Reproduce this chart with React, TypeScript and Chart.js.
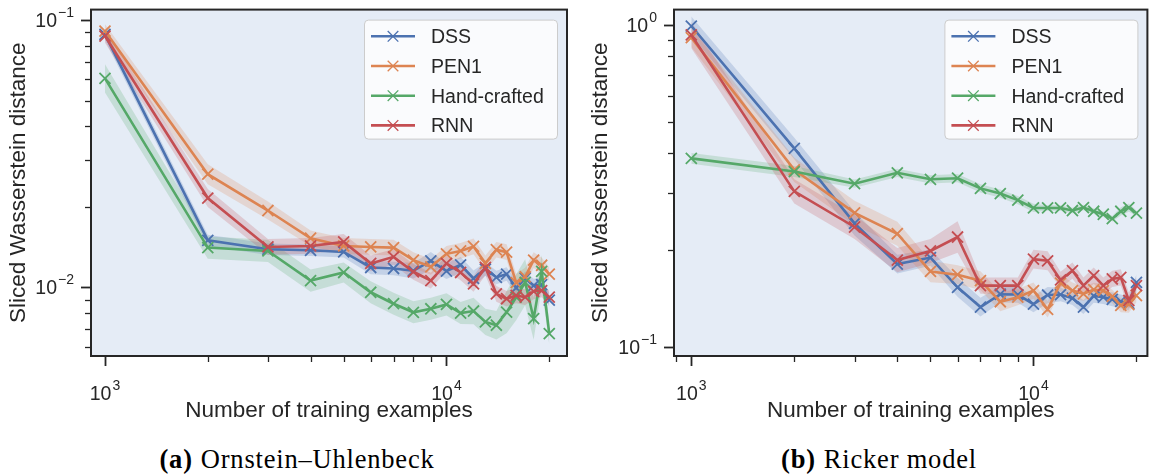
import { useEffect, useRef } from 'react';
import { Chart, registerables } from 'chart.js';

Chart.register(...registerables);

// Training-set sizes shared by both experiments
const trainingSizes = [
  1000, 2000, 3000, 4000, 5000, 6000, 7000, 8000, 9000, 10000,
  11000, 12000, 13000, 14000, 15000, 16000, 17000, 18000, 19000, 20000,
];

const seriesNames = ['DSS', 'PEN1', 'Hand-crafted', 'RNN'];
const seriesColors = ['#4c72b0', '#dd8452', '#55a868', '#c44e52'];

// (a) Ornstein–Uhlenbeck: sliced Wasserstein distance
const ouDSS = [0.0884, 0.01499, 0.01388, 0.01376, 0.01356, 0.01186, 0.01176, 0.01153, 0.01256, 0.0115, 0.01214, 0.01079, 0.0117, 0.01089, 0.01121, 0.00995, 0.01082, 0.01015, 0.01023, 0.00896];
const ouPEN1 = [0.091, 0.0265, 0.01938, 0.01526, 0.01428, 0.01416, 0.01408, 0.01264, 0.01193, 0.01334, 0.01368, 0.01422, 0.0123, 0.01382, 0.01354, 0.01041, 0.01095, 0.01264, 0.01209, 0.01121];
const ouHand = [0.0605, 0.01408, 0.01368, 0.01059, 0.01136, 0.00958, 0.00868, 0.00806, 0.00831, 0.00863, 0.00801, 0.00815, 0.00742, 0.00721, 0.00807, 0.00918, 0.01044, 0.00763, 0.01147, 0.00671];
const ouRNN = [0.0872, 0.02158, 0.01416, 0.01428, 0.01478, 0.01228, 0.013, 0.01143, 0.01059, 0.01228, 0.01136, 0.01029, 0.01186, 0.00945, 0.00906, 0.00932, 0.00918, 0.00966, 0.00972, 0.00918];

// relative spread of the shaded bands
const ouDSSSpread = [0.05, 0.05, 0.05, 0.05, 0.05, 0.06, 0.06, 0.07, 0.08, 0.07, 0.07, 0.07, 0.06, 0.06, 0.06, 0.06, 0.06, 0.06, 0.06, 0.06];
const ouPEN1Spread = [0.06, 0.09, 0.08, 0.07, 0.07, 0.07, 0.07, 0.07, 0.07, 0.07, 0.07, 0.07, 0.07, 0.07, 0.07, 0.08, 0.08, 0.07, 0.07, 0.06];
const ouHandSpread = [0.13, 0.1, 0.1, 0.1, 0.09, 0.1, 0.1, 0.1, 0.1, 0.1, 0.1, 0.12, 0.12, 0.13, 0.2, 0.22, 0.22, 0.2, 0.15, 0.1];
const ouRNNSpread = [0.06, 0.08, 0.07, 0.07, 0.07, 0.07, 0.07, 0.07, 0.07, 0.07, 0.07, 0.07, 0.07, 0.07, 0.07, 0.07, 0.07, 0.07, 0.06, 0.06];

// (b) Ricker model: sliced Wasserstein distance
const rkDSS = [0.993, 0.4133, 0.2416, 0.1805, 0.1892, 0.1529, 0.1327, 0.1455, 0.1452, 0.1355, 0.1447, 0.1452, 0.1414, 0.1327, 0.1437, 0.1425, 0.1402, 0.1382, 0.1362, 0.1584];
const rkPEN1 = [0.9138, 0.3545, 0.2605, 0.2244, 0.1713, 0.1674, 0.1604, 0.1379, 0.1425, 0.1494, 0.1305, 0.1575, 0.1494, 0.1459, 0.1504, 0.1494, 0.1432, 0.1343, 0.1352, 0.1442];
const rkHand = [0.3849, 0.3502, 0.3211, 0.3472, 0.3314, 0.334, 0.3105, 0.2991, 0.2855, 0.2699, 0.2699, 0.2699, 0.265, 0.2707, 0.2636, 0.258, 0.2499, 0.2636, 0.2707, 0.26];
const rkRNN = [0.9315, 0.3039, 0.2355, 0.1858, 0.1984, 0.2192, 0.1548, 0.1548, 0.1548, 0.1871, 0.1849, 0.1612, 0.1722, 0.1548, 0.1662, 0.1548, 0.1623, 0.1641, 0.1391, 0.1548];

const rkDSSSpread = [0.07, 0.08, 0.09, 0.07, 0.06, 0.07, 0.07, 0.06, 0.06, 0.06, 0.06, 0.05, 0.05, 0.05, 0.05, 0.05, 0.05, 0.05, 0.05, 0.06];
const rkPEN1Spread = [0.07, 0.09, 0.09, 0.09, 0.08, 0.07, 0.07, 0.07, 0.06, 0.06, 0.06, 0.06, 0.06, 0.05, 0.05, 0.05, 0.05, 0.05, 0.06, 0.05];
const rkHandSpread = [0.04, 0.04, 0.03, 0.03, 0.03, 0.03, 0.03, 0.03, 0.03, 0.03, 0.02, 0.02, 0.02, 0.02, 0.02, 0.02, 0.02, 0.03, 0.03, 0.02];
const rkRNNSpread = [0.1, 0.09, 0.09, 0.09, 0.09, 0.12, 0.06, 0.06, 0.06, 0.07, 0.07, 0.06, 0.06, 0.06, 0.06, 0.06, 0.06, 0.06, 0.06, 0.06];

// major tick labels (base 10 with exponent)
const xTickValues = [1000, 10000];
const xTickExponents = ['3', '4'];
const ouYTickValues = [0.1, 0.01];
const ouYTickExponents = ['\u22121', '\u22122'];
const rkYTickValues = [1, 0.1];
const rkYTickExponents = ['0', '\u22121'];

const SANS = '"Liberation Sans", Arial, Helvetica, sans-serif';
const SERIF = '"Liberation Serif", "Times New Roman", serif';
const INK = '#262626';
const PLOT_BG = '#e5ecf6';

function rgba(hex: string, a: number) {
  const n = parseInt(hex.slice(1), 16);
  return `rgba(${(n >> 16) & 255},${(n >> 8) & 255},${n & 255},${a})`;
}

function buildDatasets(values: number[][], spreads: number[][]) {
  const bands: any[] = [];
  const lines: any[] = [];
  values.forEach((vals, i) => {
    const col = seriesColors[i];
    bands.push({
      label: '',
      data: trainingSizes.map((n, j) => ({ x: n, y: vals[j] * (1 + spreads[i][j]) })),
      borderWidth: 0,
      borderColor: 'transparent',
      pointRadius: 0,
      fill: '+1',
      backgroundColor: rgba(col, 0.22),
      order: 20 - i,
    });
    bands.push({
      label: '',
      data: trainingSizes.map((n, j) => ({ x: n, y: vals[j] / (1 + spreads[i][j]) })),
      borderWidth: 0,
      borderColor: 'transparent',
      pointRadius: 0,
      fill: false,
      order: 20 - i,
    });
    lines.push({
      label: seriesNames[i],
      data: trainingSizes.map((n, j) => ({ x: n, y: vals[j] })),
      borderColor: col,
      backgroundColor: col,
      borderWidth: 2.6,
      pointStyle: 'crossRot',
      pointRadius: 7.8,
      pointBorderWidth: 1.8,
      pointBorderColor: col,
      pointBackgroundColor: col,
      fill: false,
      order: 3 - i,
    });
  });
  return [...bands, ...lines];
}

function logTicks(min: number, max: number) {
  const out: { v: number; major: boolean }[] = [];
  for (let e = Math.floor(Math.log10(min)) - 1; e <= Math.ceil(Math.log10(max)); e++) {
    for (let k = 1; k < 10; k++) {
      const v = k * Math.pow(10, e);
      if (v >= min * 0.9999 && v <= max * 1.0001) out.push({ v, major: k === 1 });
    }
  }
  return out;
}

function drawPow(ctx: CanvasRenderingContext2D, exp: string, x: number, baseline: number, align: 'center' | 'right') {
  ctx.font = `19.5px ${SANS}`;
  const w1 = ctx.measureText('10').width;
  ctx.font = `14px ${SANS}`;
  const w2 = ctx.measureText(exp).width;
  const total = w1 + 1 + w2;
  const left = align === 'center' ? x - total / 2 : x - total;
  ctx.textAlign = 'left';
  ctx.textBaseline = 'alphabetic';
  ctx.fillStyle = INK;
  ctx.font = `19.5px ${SANS}`;
  ctx.fillText('10', left, baseline);
  ctx.font = `14px ${SANS}`;
  ctx.fillText(exp, left + w1 + 1, baseline - 10);
}

const axisDecor = {
  id: 'axisDecor',
  beforeDatasetsDraw(chart: any) {
    const { ctx, chartArea: a } = chart;
    ctx.save();
    ctx.fillStyle = PLOT_BG;
    ctx.fillRect(a.left, a.top, a.right - a.left, a.bottom - a.top);
    ctx.restore();
  },
  afterDatasetsDraw(chart: any, _args: any, opts: any) {
    const { ctx, chartArea: a, scales } = chart;
    const xs = scales.x;
    const ys = scales.y;
    ctx.save();
    ctx.strokeStyle = INK;
    for (const t of logTicks(xs.min, xs.max)) {
      const px = Math.round(xs.getPixelForValue(t.v)) + 0.5;
      ctx.lineWidth = t.major ? 1.8 : 1.3;
      ctx.beginPath();
      ctx.moveTo(px, a.bottom);
      ctx.lineTo(px, a.bottom + (t.major ? 10 : 6));
      ctx.stroke();
    }
    for (const t of logTicks(ys.min, ys.max)) {
      const py = Math.round(ys.getPixelForValue(t.v)) + 0.5;
      ctx.lineWidth = t.major ? 1.8 : 1.3;
      ctx.beginPath();
      ctx.moveTo(a.left, py);
      ctx.lineTo(a.left - (t.major ? 10 : 6), py);
      ctx.stroke();
    }
    ctx.lineWidth = 2;
    ctx.strokeRect(a.left, a.top, a.right - a.left, a.bottom - a.top);

    opts.xValues.forEach((v: number, i: number) => {
      drawPow(ctx, opts.xExps[i], xs.getPixelForValue(v), a.bottom + 43.5, 'center');
    });
    opts.yValues.forEach((v: number, i: number) => {
      drawPow(ctx, opts.yExps[i], a.left - 17, ys.getPixelForValue(v) + 7.2, 'right');
    });
    ctx.restore();
  },
  afterDraw(chart: any) {
    const { ctx, chartArea: a } = chart;
    const items = chart.data.datasets.filter((d: any) => d.label);
    const bw = 193;
    const bh = 119;
    const bx = a.right - 10 - bw;
    const by = a.top + 10;
    ctx.save();
    ctx.beginPath();
    ctx.roundRect(bx + 0.5, by + 0.5, bw, bh, 4);
    ctx.fillStyle = 'rgba(255,255,255,0.8)';
    ctx.fill();
    ctx.strokeStyle = '#cccccc';
    ctx.lineWidth = 1;
    ctx.stroke();
    items.forEach((d: any, i: number) => {
      const cy = by + 16.7 + i * 29.7;
      ctx.strokeStyle = d.borderColor;
      ctx.lineWidth = 2.6;
      ctx.beginPath();
      ctx.moveTo(bx + 7, cy);
      ctx.lineTo(bx + 51, cy);
      ctx.stroke();
      ctx.lineWidth = 1.3;
      const mx = bx + 29;
      const r = 5.3;
      ctx.beginPath();
      ctx.moveTo(mx - r, cy - r);
      ctx.lineTo(mx + r, cy + r);
      ctx.moveTo(mx - r, cy + r);
      ctx.lineTo(mx + r, cy - r);
      ctx.stroke();
      ctx.fillStyle = INK;
      ctx.font = `19.5px ${SANS}`;
      ctx.textAlign = 'left';
      ctx.textBaseline = 'alphabetic';
      ctx.fillText(d.label, bx + 67, cy + 6.9);
    });
    ctx.restore();
  },
};

type PanelProps = {
  left: number;
  width: number;
  values: number[][];
  spreads: number[][];
  xMin: number;
  xMax: number;
  yMin: number;
  yMax: number;
  yValues: number[];
  yExps: string[];
  yAxisWidth: number;
  rightPad: number;
  yTitlePad: number;
};

const PANEL_H = 430;

function Panel(p: PanelProps) {
  const ref = useRef<HTMLCanvasElement | null>(null);
  useEffect(() => {
    if (!ref.current) return;
    const chart = new Chart(ref.current, {
      type: 'line',
      data: { datasets: buildDatasets(p.values, p.spreads) },
      plugins: [axisDecor as any],
      options: {
        responsive: false,
        animation: false,
        devicePixelRatio: 1,
        layout: { padding: { top: 7, right: p.rightPad, left: 0, bottom: 0 } },
        elements: { line: { tension: 0 } },
        plugins: {
          legend: { display: false },
          tooltip: { enabled: false },
          axisDecor: { xValues: xTickValues, xExps: xTickExponents, yValues: p.yValues, yExps: p.yExps },
        } as any,
        scales: {
          x: {
            type: 'logarithmic',
            min: p.xMin,
            max: p.xMax,
            bounds: 'data',
            grid: { display: false },
            border: { display: false },
            ticks: { display: false },
            title: {
              display: true,
              text: 'Number of training examples',
              color: INK,
              font: { family: SANS, size: 22.5 },
              padding: { top: 0, bottom: 5.5 },
            },
            afterFit: (s: any) => {
              s.height = PANEL_H - 356;
            },
          },
          y: {
            type: 'logarithmic',
            min: p.yMin,
            max: p.yMax,
            bounds: 'data',
            grid: { display: false },
            border: { display: false },
            ticks: { display: false },
            title: {
              display: true,
              text: 'Sliced Wasserstein distance',
              color: INK,
              font: { family: SANS, size: 22.5 },
              padding: { top: p.yTitlePad, bottom: 0 },
            },
            afterFit: (s: any) => {
              s.width = p.yAxisWidth;
            },
          },
        } as any,
      },
    });
    return () => chart.destroy();
  }, []);
  return (
    <canvas
      ref={ref}
      width={p.width}
      height={PANEL_H}
      style={{ position: 'absolute', left: p.left, top: 0, width: p.width, height: PANEL_H }}
    />
  );
}

function Caption({ cx, tag, text }: { cx: number; tag: string; text: string }) {
  return (
    <div
      style={{
        position: 'absolute',
        left: cx,
        top: 459,
        transform: 'translate(-50%, -50%)',
        font: `26.5px ${SERIF}`,
        letterSpacing: '0.8px',
        whiteSpace: 'nowrap',
        color: '#000',
      }}
    >
      <b style={{ marginRight: 8 }}>{tag}</b>
      {text}
    </div>
  );
}

export default function App() {
  return (
    <div style={{ position: 'absolute', left: 0, top: 0, width: 1157, height: 474, background: '#fff', overflow: 'hidden' }}>
      <Panel
        left={0}
        width={580}
        values={[ouDSS, ouPEN1, ouHand, ouRNN]}
        spreads={[ouDSSSpread, ouPEN1Spread, ouHandSpread, ouRNNSpread]}
        xMin={910}
        xMax={22540}
        yMin={0.005531}
        yMax={0.1095}
        yValues={ouYTickValues}
        yExps={ouYTickExponents}
        yAxisWidth={91}
        rightPad={13}
        yTitlePad={5.5}
      />
      <Panel
        left={580}
        width={577}
        values={[rkDSS, rkPEN1, rkHand, rkRNN]}
        spreads={[rkDSSSpread, rkPEN1Spread, rkHandSpread, rkRNNSpread]}
        xMin={890}
        xMax={21530}
        yMin={0.0935}
        yMax={1.117}
        yValues={rkYTickValues}
        yExps={rkYTickExponents}
        yAxisWidth={94}
        rightPad={7}
        yTitlePad={7}
      />
      <Caption cx={297} tag="(a)" text="Ornstein–Uhlenbeck" />
      <Caption cx={879} tag="(b)" text="Ricker model" />
    </div>
  );
}
